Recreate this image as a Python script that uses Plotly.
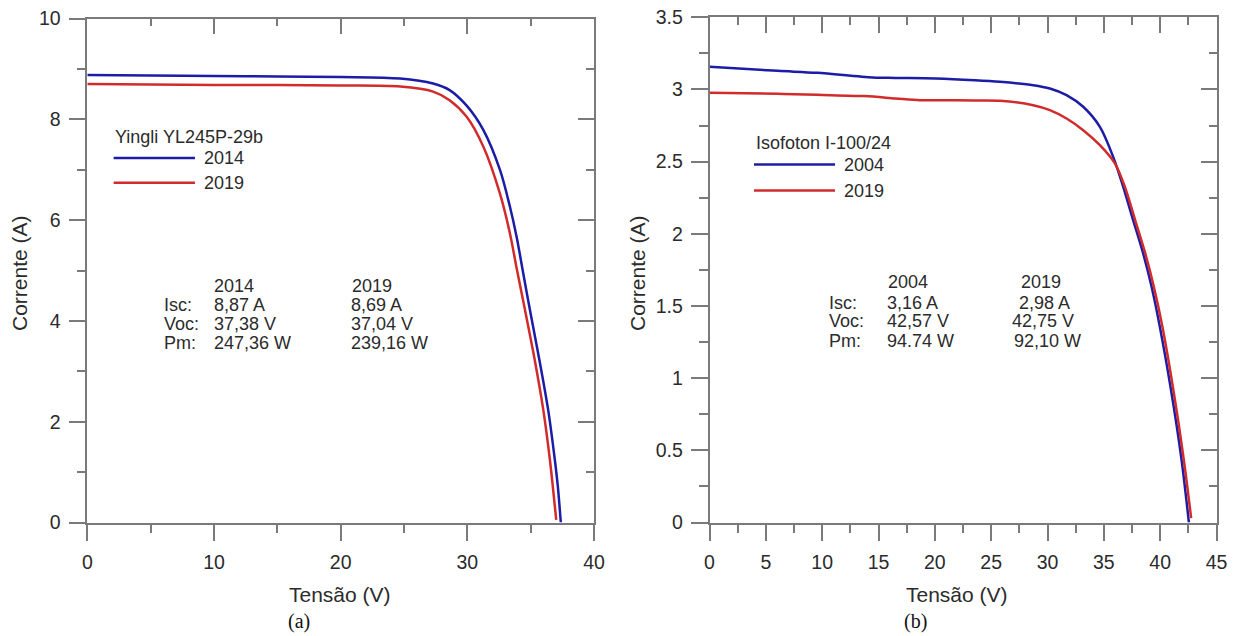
import plotly.graph_objects as go

# ---------------- data ----------------
# Panel (a): Yingli YL245P-29b
V_a_2014 = [0, 5, 10, 15, 20, 24.7, 27.3, 28.6, 29.95, 31.26, 32.57, 33.36, 33.89, 34.41, 34.94, 35.73, 36.39, 36.91, 37.15, 37.38]
I_a_2014 = [8.88, 8.87, 8.86, 8.85, 8.84, 8.81, 8.71, 8.58, 8.27, 7.79, 7.00, 6.27, 5.67, 4.95, 4.22, 3.17, 2.22, 1.24, 0.70, 0.0]
V_a_2019 = [0, 5, 10, 15, 20, 24.7, 27.3, 28.6, 29.95, 31.26, 32.57, 33.36, 33.89, 34.55, 35.34, 36.0, 36.52, 36.75, 37.02]
I_a_2019 = [8.70, 8.69, 8.68, 8.68, 8.67, 8.65, 8.55, 8.38, 8.05, 7.46, 6.53, 5.74, 5.05, 4.22, 3.20, 2.23, 1.24, 0.71, 0.05]

# Panel (b): Isofoton I-100/24
V_b_2004 = [0, 6.06, 9.56, 14.5, 16.5, 20.06, 23.56, 25.78, 28.73, 30.21, 31.69, 33.17, 34.65, 35.83, 36.72, 37.6, 38.49, 39.24, 39.97, 41.01, 41.9, 42.55]
I_b_2004 = [3.157, 3.129, 3.115, 3.083, 3.080, 3.076, 3.064, 3.053, 3.030, 3.007, 2.961, 2.880, 2.741, 2.533, 2.325, 2.095, 1.864, 1.633, 1.356, 0.895, 0.433, 0.0]
V_b_2019 = [0, 6.06, 9.56, 13.76, 16.5, 18.66, 20.06, 23.56, 25.78, 28.73, 30.21, 31.69, 33.17, 34.65, 35.98, 36.87, 37.78, 38.68, 39.44, 40.2, 41.22, 42.1, 42.75]
I_b_2019 = [2.977, 2.970, 2.963, 2.954, 2.938, 2.926, 2.926, 2.924, 2.922, 2.891, 2.857, 2.799, 2.718, 2.614, 2.488, 2.325, 2.095, 1.864, 1.633, 1.356, 0.895, 0.433, 0.03]

legend_a_title = "Yingli YL245P-29b"
legend_a_labels = ["2014", "2019"]
legend_b_title = "Isofoton I-100/24"
legend_b_labels = ["2004", "2019"]

stat_names = ["Isc:", "Voc:", "Pm:"]
stats_a_2014 = ["8,87 A", "37,38 V", "247,36 W"]
stats_a_2019 = ["8,69 A", "37,04 V", "239,16 W"]
stats_b_2004 = ["3,16 A", "42,57 V", "94.74 W"]
stats_b_2019 = ["2,98 A", "42,75 V", "92,10 W"]

x_title = "Tensão (V)"
y_title = "Corrente (A)"
captions = ["(a)", "(b)"]

# ---------------- styles ----------------
W, H = 1243, 636
BLUE = "#1c1ca6"
RED = "#d22b2b"
AX = "#7a7a7a"
TXT = "#2b2b2b"
FONT = "Liberation Sans, Arial, sans-serif"


def fx(p):
    return p / W


def fy(p):
    return 1 - p / H


fig = go.Figure()
line_common = dict(width=2.5, shape="spline", smoothing=0.9)
fig.add_trace(go.Scatter(x=V_a_2014, y=I_a_2014, mode="lines", line=dict(color=BLUE, **line_common),
                         xaxis="x", yaxis="y", showlegend=False, name="2014"))
fig.add_trace(go.Scatter(x=V_a_2019, y=I_a_2019, mode="lines", line=dict(color=RED, **line_common),
                         xaxis="x", yaxis="y", showlegend=False, name="2019"))
fig.add_trace(go.Scatter(x=V_b_2004, y=I_b_2004, mode="lines", line=dict(color=BLUE, **line_common),
                         xaxis="x2", yaxis="y2", showlegend=False, name="2004"))
fig.add_trace(go.Scatter(x=V_b_2019, y=I_b_2019, mode="lines", line=dict(color=RED, **line_common),
                         xaxis="x2", yaxis="y2", showlegend=False, name="2019"))
# dummy traces so the mirror axes are instantiated
for xa, ya in [("x3", "y"), ("x", "y3"), ("x4", "y2"), ("x2", "y4")]:
    fig.add_trace(go.Scatter(x=[None], y=[None], xaxis=xa, yaxis=ya, showlegend=False, hoverinfo="skip"))

base = dict(showline=True, linecolor=AX, linewidth=1.5, tickcolor=AX, tickwidth=1.5,
            showgrid=False, zeroline=False, automargin=False,
            tickfont=dict(family=FONT, size=19.5, color=TXT))


def outer(rng, dtick, mdtick, **kw):
    d = dict(base)
    d.update(range=rng, dtick=dtick, tick0=0, ticks="outside", ticklen=17,
             minor=dict(ticks="outside", ticklen=9, tickwidth=1.5, tickcolor=AX, dtick=mdtick, tick0=0, showgrid=False))
    d.update(kw)
    return d


def inner(rng, dtick, mdtick, **kw):
    d = dict(base)
    d.update(range=rng, dtick=dtick, tick0=0, ticks="inside", ticklen=16, showticklabels=False,
             minor=dict(ticks="inside", ticklen=8, tickwidth=1.5, tickcolor=AX, dtick=mdtick, tick0=0, showgrid=False))
    d.update(kw)
    return d


xa_dom = [fx(87.3), fx(594)]
xb_dom = [fx(709.5), fx(1216.5)]
ya_dom = [fy(522.5), fy(18.5)]
yb_dom = [fy(522.5), fy(17.3)]

fig.update_layout(
    width=W, height=H,
    margin=dict(l=0, r=0, t=0, b=0),
    paper_bgcolor="white", plot_bgcolor="white",
    xaxis=outer([0, 40], 10, 5, domain=xa_dom, anchor="y", ticklabelstandoff=4),
    yaxis=outer([0, 10], 2, 1, domain=ya_dom, anchor="x", ticklabelstandoff=4),
    xaxis3=inner([0, 40], 10, 5, overlaying="x", side="top", anchor="y"),
    yaxis3=inner([0, 10], 2, 1, overlaying="y", side="right", anchor="x"),
    xaxis2=outer([0, 45], 5, 2.5, domain=xb_dom, anchor="y2", ticklabelstandoff=4),
    yaxis2=outer([0, 3.5], 0.5, 0.25, domain=yb_dom, anchor="x2", ticklabelstandoff=4),
    xaxis4=inner([0, 45], 5, 2.5, overlaying="x2", side="top", anchor="y2"),
    yaxis4=inner([0, 3.5], 0.5, 0.25, overlaying="y2", side="right", anchor="x2"),
)

annos = []
shapes = []
tfont = dict(family=FONT, size=18, color=TXT)


def txt(x, y, s, xref, yref, **kw):
    d = dict(x=x, y=y, text=s, xref=xref, yref=yref, showarrow=False, xanchor="left", yanchor="middle",
             font=tfont, borderpad=0)
    d.update(kw)
    annos.append(d)


# ---- panel (a) legend
txt(2.1, 7.65, legend_a_title, "x", "y")
for yy, col, lab in zip([7.23, 6.74], [BLUE, RED], legend_a_labels):
    shapes.append(dict(type="line", xref="x", yref="y", x0=2.08, x1=8.5, y0=yy, y1=yy, line=dict(color=col, width=2.5)))
    txt(9.13, yy, lab, "x", "y")

# ---- panel (a) stats
txt(9.92, 4.69, legend_a_labels[0], "x", "y")
txt(20.85, 4.69, legend_a_labels[1], "x", "y")
for yy, nm, v1, v2 in zip([4.32, 3.94, 3.56], stat_names, stats_a_2014, stats_a_2019):
    txt(6.0, yy, nm, "x", "y")
    txt(9.92, yy, v1, "x", "y")
    txt(20.75, yy, v2, "x", "y")

# ---- panel (b) legend
txt(4.04, 2.63, legend_b_title, "x2", "y2")
for yy, col, lab in zip([2.48, 2.30], [BLUE, RED], legend_b_labels):
    shapes.append(dict(type="line", xref="x2", yref="y2", x0=3.95, x1=11.14, y0=yy, y1=yy, line=dict(color=col, width=2.5)))
    txt(11.85, yy, lab, "x2", "y2")

# ---- panel (b) stats
txt(15.79, 1.668, legend_b_labels[0], "x2", "y2")
txt(27.55, 1.668, legend_b_labels[1], "x2", "y2")
for yy, nm, v1, v2, c2 in zip([1.522, 1.398, 1.259], stat_names, stats_b_2004, stats_b_2019, [27.37, 26.75, 26.9]):
    txt(10.51, yy, nm, "x2", "y2")
    txt(15.7, yy, v1, "x2", "y2")
    txt(c2, yy, v2, "x2", "y2")

# ---- axis titles and captions
title_font = dict(family=FONT, size=21, color=TXT)
for cx in [339.5, 957]:
    annos.append(dict(x=fx(cx), y=fy(594), xref="paper", yref="paper", text=x_title, showarrow=False,
                      xanchor="center", yanchor="middle", font=title_font))
for cx in [19, 637]:
    annos.append(dict(x=fx(cx), y=fy(273), xref="paper", yref="paper", text=y_title, showarrow=False,
                      xanchor="center", yanchor="middle", textangle=-90, font=title_font))
for cx, cap in zip([299, 915], captions):
    annos.append(dict(x=fx(cx), y=fy(621), xref="paper", yref="paper", text=cap, showarrow=False,
                      xanchor="center", yanchor="middle",
                      font=dict(family="Liberation Serif, Times New Roman, serif", size=20, color="#111")))

fig.update_layout(annotations=annos, shapes=shapes)
fig.write_html("out.html")
